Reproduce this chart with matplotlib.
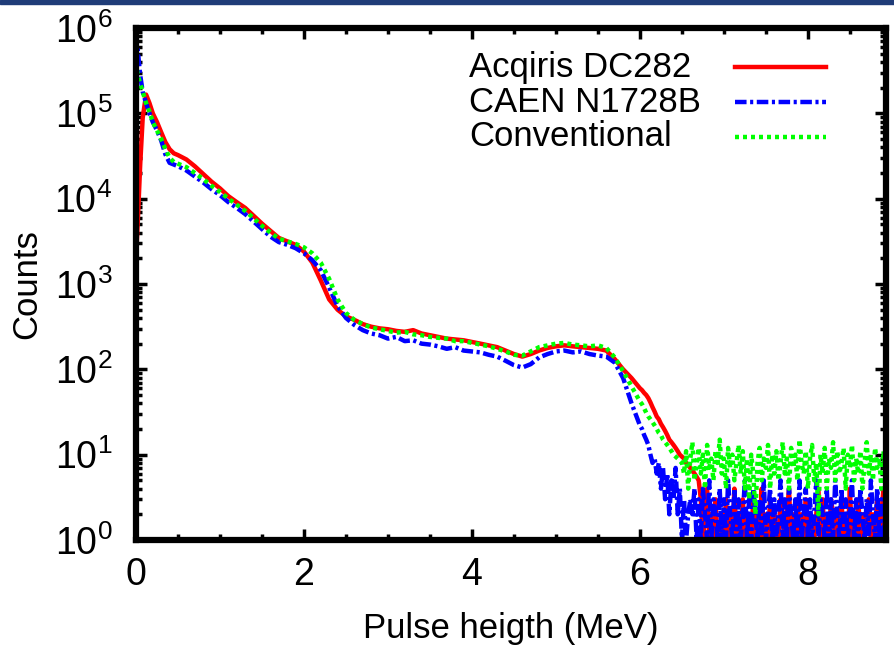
import matplotlib
matplotlib.use("Agg")
import matplotlib.pyplot as plt
import numpy as np
from matplotlib.lines import Line2D
from matplotlib.ticker import LogLocator, MultipleLocator

plt.rcParams.update(
    {
        "font.family": ["Liberation Sans", "DejaVu Sans"],
        "mathtext.fontset": "custom",
        "mathtext.rm": "Liberation Sans",
        "font.size": 24,
    }
)

# Energy bins (MeV): fine near zero, 0.1 MeV over the body, 0.025 MeV in the tail
energy = np.concatenate(
    [
        [0.0, 0.02, 0.05, 0.08, 0.12, 0.16, 0.2, 0.25, 0.3, 0.35, 0.4, 0.45],
        np.round(np.arange(0.5, 6.05, 0.1), 2),
        np.round(np.arange(6.025, 8.951, 0.025), 3),
    ]
)

acqiris = [
    2000, 5000, 25000, 89000, 166000, 132000, 100000, 79000, 60000, 46000, 38000, 34000,
    # 0.5 - 6.0
    32400, 28800, 24000, 19500, 15800, 13200, 10700, 9100, 7800, 6300,
    5100, 4200, 3470, 3160, 2880, 2400, 1780, 1100, 660, 500,
    417, 380, 339, 316, 302, 295, 282, 275, 288, 263,
    251, 240, 229, 224, 219, 209, 200, 191, 182, 166,
    151, 141, 151, 166, 178, 186, 191, 186, 182, 178,
    174, 166, 132, 100, 79, 60,
    # 6.025 - 8.95
    57, 53, 50, 46, 41, 36, 32, 28, 26, 23,
    21, 19, 17, 15, 14, 13, 12, 11, 10, 9.5,
    9, 8, 7.5, 7, 6.5, 6, 5.5, 5,
    3, 1, 2, 4, 1, 2, 1, 3, 1, 1,
    2, 1, 3, 1, 2, 1, 4, 1, 2, 1,
    3, 1, 2, 2, 1, 3, 1, 2, 1, 4,
    1, 2, 1, 3, 1, 2, 1, 1, 3, 2,
    1, 2, 4, 1, 2, 1, 3, 1, 2, 1,
    3, 1, 2, 1, 1, 2, 4, 1, 3, 1,
    2, 1, 3, 2, 1, 2, 1, 3, 1, 2,
    1, 4, 1, 2, 1, 3, 1, 2, 1, 2,
    3, 1, 2, 1, 3, 1, 2, 4, 1, 2,
]

caen = [
    200000, 560000, 280000, 178000, 132000, 100000, 79000, 63000, 48000, 33000, 26300, 25100,
    # 0.5 - 6.0
    24000, 21400, 18200, 15500, 12900, 11000, 9100, 7800, 6600, 5400,
    4400, 3600, 3100, 2880, 2630, 2290, 1900, 1450, 910, 550,
    400, 331, 288, 263, 251, 229, 240, 214, 219, 200,
    195, 186, 174, 182, 166, 162, 158, 148, 141, 126,
    112, 105, 115, 138, 151, 162, 166, 158, 162, 151,
    145, 141, 120, 79, 40, 22,
    # 6.025 - 8.95
    20, 17, 15, 13, 10, 8, 9, 6, 8, 4,
    7, 3, 6, 2, 5, 3, 7, 2, 4, 1,
    3, 1, 2, 3, 2, 4, 1, 3,
    1, 4, 2, 1, 5, 1, 3, 2, 1, 4,
    1, 3, 1, 5, 2, 1, 4, 1, 3, 1,
    2, 5, 1, 3, 1, 4, 2, 1, 3, 1,
    5, 1, 2, 4, 1, 3, 1, 2, 5, 1,
    3, 1, 4, 2, 1, 3, 1, 5, 1, 2,
    4, 1, 3, 1, 2, 5, 1, 3, 2, 1,
    4, 1, 3, 1, 5, 2, 1, 4, 1, 3,
    1, 2, 5, 1, 3, 1, 4, 2, 1, 3,
    1, 5, 2, 1, 4, 1, 3, 1, 2, 4,
]

conventional = [
    400000, 282000, 224000, 178000, 132000, 105000, 79000, 63000, 50000, 38000, 30200, 26900,
    # 0.5 - 6.0
    25700, 23400, 20000, 17000, 14100, 12000, 10000, 8500, 7200, 5900,
    4800, 4000, 3400, 3160, 2950, 2690, 2290, 1780, 1150, 660,
    457, 380, 339, 309, 295, 282, 269, 275, 257, 251,
    240, 234, 229, 214, 214, 204, 195, 186, 174, 162,
    148, 145, 162, 182, 191, 200, 204, 195, 191, 186,
    191, 178, 138, 95, 63, 42,
    # 6.025 - 8.95
    39, 35, 31, 28, 26, 24, 22, 20, 18, 17,
    15, 14, 13, 12, 11, 10, 9.5, 9, 8.5, 8,
    6, 11, 4, 9, 14, 5, 8, 12, 6, 10,
    4, 13, 7, 9, 5, 11, 8, 15, 6, 9,
    4, 12, 7, 10, 5, 8, 13, 6, 11, 4,
    9, 3, 10, 6, 2, 8, 12, 5, 9, 7,
    13, 4, 10, 6, 11, 5, 8, 14, 6, 9,
    4, 12, 7, 10, 5, 15, 8, 6, 11, 4,
    9, 13, 5, 8, 2, 10, 6, 12, 4, 9,
    7, 14, 5, 11, 6, 8, 12, 4, 10, 7,
    13, 5, 9, 6, 11, 4, 8, 14, 6, 10,
    5, 12, 7, 9, 4, 11, 6, 8,
]

labels = ["Acqiris DC282", "CAEN N1728B", "Conventional"]
colors = ["#ff0000", "#0000ff", "#00ff00"]
styles = ["-", (0, (2.6, 0.8, 0.7, 0.8)), (0, (0.9, 0.9))]

W, H = 895, 649
fig = plt.figure(figsize=(W / 100, H / 100), dpi=100)
ax = fig.add_axes([136 / W, 1 - 540 / H, 750 / W, 512 / H])

# slide banner strip at the top
fig.patches.append(
    plt.Rectangle((0, 1 - 4 / H), 1, 4 / H, transform=fig.transFigure,
                  color="#1f3c78", zorder=0)
)

for counts, color, ls in zip([acqiris, caen, conventional], colors, styles):
    ax.plot(energy, counts, color=color, linestyle=ls, linewidth=3.2,
            dash_capstyle="butt")

ax.set_yscale("log")
ax.set_xlim(0, 8.93)
ax.set_ylim(1, 1e6)

ax.set_xticks([0, 2, 4, 6, 8])
ax.set_xticklabels(["0", "2", "4", "6", "8"], fontsize=27)
ax.xaxis.set_minor_locator(MultipleLocator(0.5))
ax.set_yticks([10.0 ** k for k in range(7)])
ax.set_yticklabels([r"$\mathdefault{10^{%d}}$" % k for k in range(7)], fontsize=27)
ax.yaxis.set_minor_locator(LogLocator(base=10, subs=np.arange(2, 10), numticks=20))
ax.yaxis.set_minor_formatter(plt.NullFormatter())

ax.tick_params(which="both", direction="in", top=True, right=True, width=2.5)
ax.tick_params(which="major", length=8)
ax.tick_params(which="minor", length=4)
ax.tick_params(axis="x", which="major", pad=12)
ax.tick_params(axis="y", which="major", pad=17)

for s in ax.spines.values():
    s.set_linewidth(4.5)

ax.set_xlabel("Pulse heigth (MeV)", fontsize=25, labelpad=14)
ax.set_ylabel("Counts", fontsize=25, labelpad=8)

# gnuplot-style key: text on the left, line sample on the right
for i, (label, color, ls) in enumerate(zip(labels, colors, styles)):
    yc = 1 - (67 + 35 * i) / H
    fig.text(469 / W, yc, label, fontsize=25, ha="left", va="center")
    fig.add_artist(Line2D([735 / W, 826 / W], [yc, yc], transform=fig.transFigure,
                          color=color, linestyle=ls, linewidth=3.2,
                          dash_capstyle="butt"))

fig.savefig("out.png", dpi=100)
